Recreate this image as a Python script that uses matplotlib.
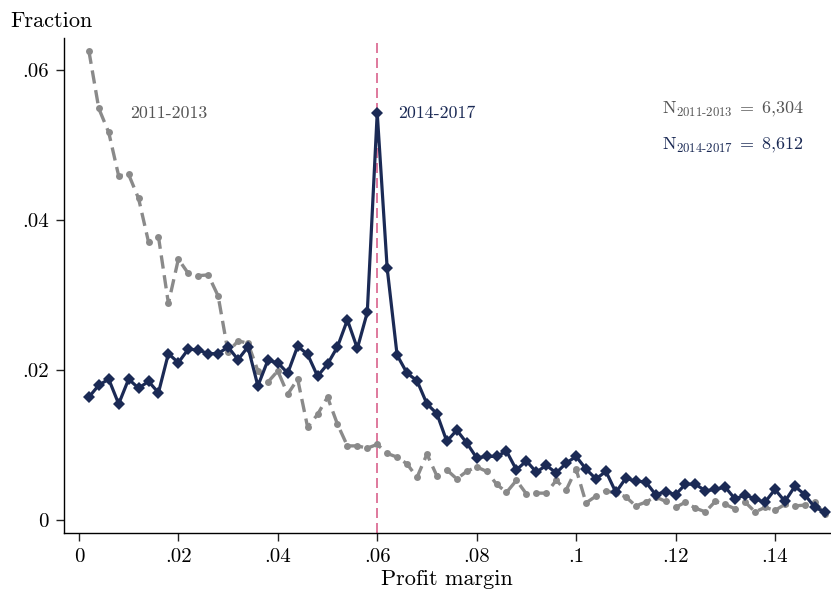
import matplotlib
matplotlib.use("Agg")
import matplotlib.pyplot as plt
import numpy as np

# bin midpoints of profit margin (0.002 steps)
margin = np.round(np.arange(1, 76) * 0.002, 3)

frac_2011_2013 = [
    0.0626, 0.0549, 0.0517, 0.0459, 0.0461, 0.0429, 0.0371, 0.0378, 0.0289, 0.0348,
    0.0329, 0.0326, 0.0327, 0.0299, 0.0224, 0.0239, 0.0236, 0.0199, 0.0184, 0.0199,
    0.0168, 0.0188, 0.0124, 0.0141, 0.0164, 0.0128, 0.0099, 0.0099, 0.0096, 0.0101,
    0.0089, 0.0084, 0.0075, 0.0057, 0.0088, 0.0059, 0.0067, 0.0055, 0.0065, 0.0071,
    0.0065, 0.0048, 0.0037, 0.0053, 0.0035, 0.0036, 0.0036, 0.0053, 0.0040, 0.0068,
    0.0023, 0.0032, 0.0039, 0.0036, 0.0031, 0.0019, 0.0024, 0.0031, 0.0025, 0.0017,
    0.0024, 0.0016, 0.0011, 0.0025, 0.0021, 0.0015, 0.0024, 0.0011, 0.0017, 0.0013,
    0.0021, 0.0019, 0.0020, 0.0024, 0.0008,
]
frac_2014_2017 = [
    0.0164, 0.0180, 0.0188, 0.0155, 0.0188, 0.0176, 0.0185, 0.0170, 0.0222, 0.0210,
    0.0228, 0.0227, 0.0222, 0.0222, 0.0231, 0.0214, 0.0231, 0.0179, 0.0213, 0.0210,
    0.0196, 0.0232, 0.0221, 0.0192, 0.0208, 0.0231, 0.0267, 0.0229, 0.0277, 0.0543,
    0.0336, 0.0220, 0.0196, 0.0186, 0.0155, 0.0142, 0.0105, 0.0120, 0.0103, 0.0083,
    0.0085, 0.0085, 0.0092, 0.0067, 0.0079, 0.0064, 0.0073, 0.0063, 0.0076, 0.0085,
    0.0068, 0.0055, 0.0065, 0.0037, 0.0056, 0.0052, 0.0051, 0.0034, 0.0038, 0.0034,
    0.0048, 0.0048, 0.0039, 0.0041, 0.0044, 0.0028, 0.0034, 0.0028, 0.0024, 0.0041,
    0.0025, 0.0045, 0.0034, 0.0017, 0.0011,
]

x_ticks = [0, 0.02, 0.04, 0.06, 0.08, 0.1, 0.12, 0.14]
x_ticklabels = ["0", ".02", ".04", ".06", ".08", ".1", ".12", ".14"]
y_ticks = [0, 0.02, 0.04, 0.06]
y_ticklabels = ["0", ".02", ".04", ".06"]
threshold = 0.06

GRAY = "#8a8a8a"
NAVY = "#1b2a55"
PINK = "#d9628c"

plt.rcParams["font.family"] = "serif"
plt.rcParams["font.serif"] = ["cmr10", "DejaVu Serif"]
plt.rcParams["mathtext.fontset"] = "cm"
plt.rcParams["axes.unicode_minus"] = False

fig = plt.figure(figsize=(8.31, 5.93), dpi=100)
ax = fig.add_axes([0.077, 0.101, 0.922, 0.835])

ax.axvline(threshold, color=PINK, linestyle=(0, (6, 3)), linewidth=1.2, zorder=1)
ax.plot(margin, frac_2011_2013, color=GRAY, linestyle=(0, (4, 2)), linewidth=2.4,
        marker="o", markersize=5, markeredgewidth=0, zorder=2)
ax.plot(margin, frac_2014_2017, color=NAVY, linewidth=2.3,
        marker="D", markersize=6.3, markeredgewidth=0, zorder=3)

ax.set_xlim(-0.003, 0.1511)
ax.set_ylim(-0.00173, 0.0643)
ax.set_xticks(x_ticks)
ax.set_xticklabels(x_ticklabels, fontsize=15)
ax.set_yticks(y_ticks)
ax.set_yticklabels(y_ticklabels, fontsize=15)
ax.tick_params(direction="out", length=6, width=1, color="#222222", pad=5)
ax.spines["top"].set_visible(False)
ax.spines["right"].set_visible(False)
ax.spines["left"].set_linewidth(1.0)
ax.spines["bottom"].set_linewidth(1.0)

ax.set_xlabel("Profit margin", fontsize=16, labelpad=2)
fig.text(0.012, 0.965, "Fraction", fontsize=16, ha="left", va="center")

ax.text(0.0103, 0.0543, "2011-2013", color="#555555", fontsize=12.8, ha="left", va="center")
ax.text(0.0642, 0.0543, "2014-2017", color=NAVY, fontsize=12.8, ha="left", va="center")
ax.text(0.1315, 0.0547, r"$\mathrm{N}_{\mathrm{2011\text{-}2013}}\;=\;6{,}304$",
        color="#555555", fontsize=13, ha="center", va="center")
ax.text(0.1315, 0.0500, r"$\mathrm{N}_{\mathrm{2014\text{-}2017}}\;=\;8{,}612$",
        color=NAVY, fontsize=13, ha="center", va="center")

fig.savefig("out.png", dpi=100)
